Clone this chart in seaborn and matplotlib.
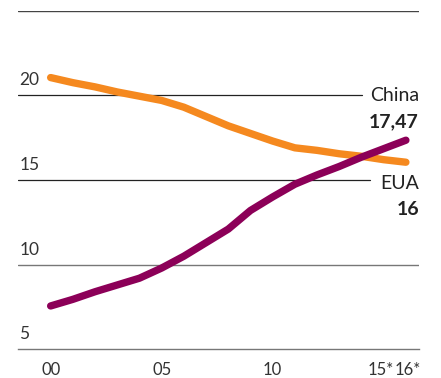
import matplotlib
matplotlib.use("Agg")
import matplotlib.pyplot as plt
import matplotlib.transforms as mtransforms
import seaborn as sns
import pandas as pd

years = list(range(2000, 2017))
eua = [21.05, 20.75, 20.5, 20.2, 19.95, 19.7, 19.3, 18.75, 18.2, 17.75, 17.3,
       16.9, 16.75, 16.55, 16.4, 16.2, 16.05]
china = [7.56, 7.95, 8.4, 8.8, 9.2, 9.8, 10.5, 11.3, 12.1, 13.2, 14.0,
         14.75, 15.3, 15.8, 16.35, 16.85, 17.35]
xticks = [2000, 2005, 2010, 2015, 2016]
xticklabels = ["00", "05", "10", "15*", "16*"]
yticks = [5, 10, 15, 20]
series_names = ["EUA", "China"]
end_labels = {"China": "17,47", "EUA": "16"}

df = pd.DataFrame({
    "year": years * 2,
    "value": eua + china,
    "country": ["EUA"] * len(years) + ["China"] * len(years),
})

sns.set_theme(style="white")
plt.rcParams["font.family"] = ["Lato", "DejaVu Sans"]

fig = plt.figure(figsize=(4.41, 3.78), dpi=100)
ax = fig.add_axes([18 / 441, 1 - 349.3 / 378, (419 - 18) / 441, (349.3 - 10.7) / 378])

x0, x1 = 1998.53, 2016.59
ax.set_xlim(x0, x1)
ax.set_ylim(5, 25)

# gridlines
ax.axhline(25, color="#444444", lw=1.0, zorder=1)
ax.axhline(20, xmin=0, xmax=(362 - 18) / (419 - 18), color="#222222", lw=0.9, zorder=1)
ax.axhline(15, xmin=0, xmax=(370 - 18) / (419 - 18), color="#222222", lw=0.9, zorder=1)
ax.axhline(10, color="#777777", lw=1.0, zorder=1)

sns.lineplot(data=df, x="year", y="value", hue="country", hue_order=series_names,
             palette={"EUA": "#F5891F", "China": "#8C0058"}, linewidth=5.3,
             legend=False, ax=ax, zorder=3)
for ln in ax.get_lines():
    ln.set_solid_capstyle("round")
    ln.set_solid_joinstyle("round")

for s in ["top", "right", "left"]:
    ax.spines[s].set_visible(False)
ax.spines["bottom"].set_color("#777777")
ax.spines["bottom"].set_linewidth(1.0)

ax.set_xticks(xticks)
ax.set_xticklabels(xticklabels, fontsize=12, color="#333333")
ax.tick_params(axis="x", length=7, width=0.9, color="#777777", direction="out", pad=2)
ax.set_yticks([])
ax.set_xlabel("")
ax.set_ylabel("")

# nudge the two close labels apart
shifts = {"15*": -2.5, "16*": 2.0}
for lbl in ax.get_xticklabels():
    dx = shifts.get(lbl.get_text(), 0)
    if dx:
        lbl.set_transform(lbl.get_transform() +
                          mtransforms.ScaledTranslation(dx / 100, 0, fig.dpi_scale_trans))

for v in yticks:
    ax.annotate(str(v), xy=(0, v), xycoords=("axes fraction", "data"),
                xytext=(1, 5), textcoords="offset points", ha="left", va="bottom",
                fontsize=12.5, color="#333333")

ax.annotate("China", xy=(1, 20), xycoords=("axes fraction", "data"),
            ha="right", va="center", fontsize=14, color="#222222")
ax.annotate(end_labels["China"], xy=(1, 20), xycoords=("axes fraction", "data"),
            xytext=(0, -19), textcoords="offset points",
            ha="right", va="center", fontsize=14, fontweight="bold", color="#222222")
ax.annotate("EUA", xy=(1, 15), xycoords=("axes fraction", "data"),
            xytext=(0, -2.5), textcoords="offset points",
            ha="right", va="center", fontsize=14, color="#222222")
ax.annotate(end_labels["EUA"], xy=(1, 15), xycoords=("axes fraction", "data"),
            xytext=(0, -21), textcoords="offset points",
            ha="right", va="center", fontsize=14, fontweight="bold", color="#222222")

fig.savefig("out.png", dpi=100)
